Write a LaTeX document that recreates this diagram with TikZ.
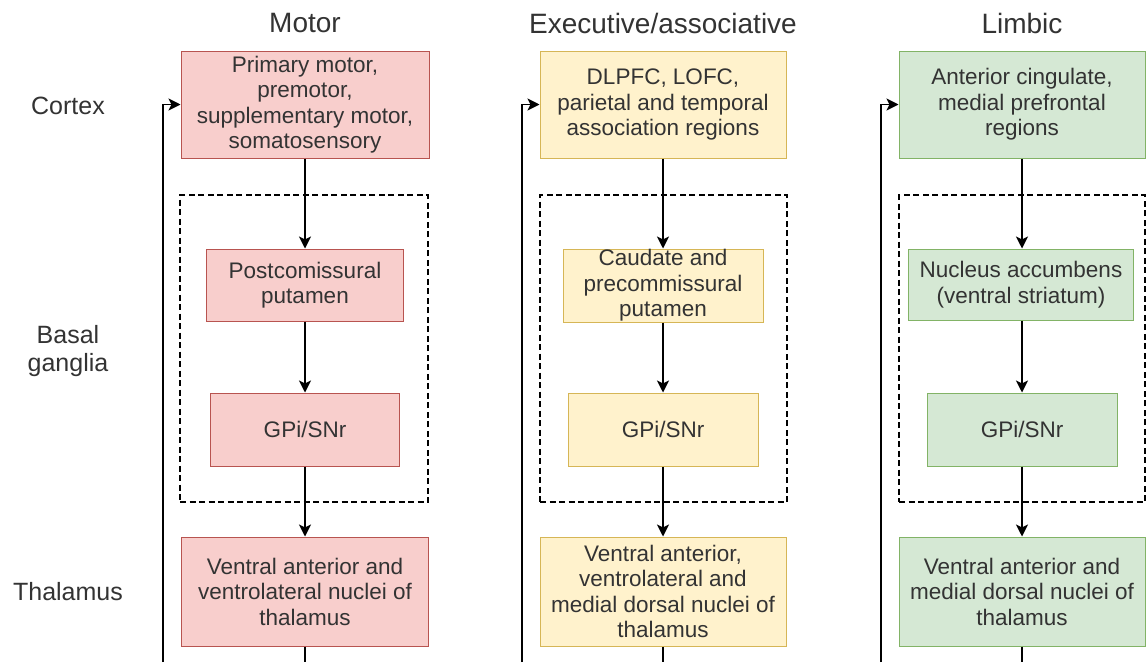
\documentclass[tikz,border=0pt]{standalone}
\usepackage{fontspec}
\setmainfont{Liberation Sans}
\usetikzlibrary{arrows.meta}
\definecolor{redF}{HTML}{F8CECC}
\definecolor{redD}{HTML}{B85450}
\definecolor{yelF}{HTML}{FFF2CC}
\definecolor{yelD}{HTML}{D6B656}
\definecolor{grnF}{HTML}{D5E8D4}
\definecolor{grnD}{HTML}{82B366}
\definecolor{txtc}{HTML}{333333}
\begin{document}
\begin{tikzpicture}[x=1pt,y=-1pt,
  box/.style={draw, rectangle, align=center, inner sep=0pt, line width=1pt, text=txtc, font=\fontsize{22.5}{25.5}\selectfont},
  mot/.style={box, fill=redF, draw=redD},
  exe/.style={box, fill=yelF, draw=yelD},
  lim/.style={box, fill=grnF, draw=grnD},
  grp/.style={draw=black, dash pattern=on 6pt off 3.5pt, line width=1.2pt, rectangle, inner sep=0pt},
  flow/.style={-{Stealth[length=12pt,width=12pt,inset=3pt]}, line width=1.5pt},
  plainline/.style={line width=1.5pt},
  title/.style={font=\fontsize{28}{32}\selectfont, text=txtc},
  rowlab/.style={font=\fontsize{25}{28}\selectfont, text=txtc, align=center},
]
\useasboundingbox[fill=white] (0,0) rectangle (1146,662);

% titles
\node[title] (tM) at (305,23) {Motor};
\node[title] (tE) at (663,23) {Executive/associative};
\node[title] (tL) at (1022,23) {Limbic};

% row labels
\node[rowlab] (rC) at (68,106) {Cortex};
\node[rowlab] (rB) at (68,351) {Basal\\ganglia};
\node[rowlab] (rT) at (68,592) {Thalamus};

% dashed groups
\node[grp, minimum width=248pt, minimum height=307pt] (mD) at (304,348.5) {};
\node[grp, minimum width=247pt, minimum height=307pt] (eD) at (663.5,348.5) {};
\node[grp, minimum width=246pt, minimum height=307pt] (lD) at (1022,348.5) {};

% motor column
\node[mot, minimum width=248pt, minimum height=107pt] (mC) at (305,104.5) {Primary motor,\\premotor,\\supplementary motor,\\somatosensory};
\node[mot, minimum width=197pt, minimum height=72pt] (mS) at (305,285) {Postcomissural\\putamen};
\node[mot, minimum width=189pt, minimum height=73pt] (mG) at (305,429.5) {GPi/SNr};
\node[mot, minimum width=247pt, minimum height=109pt] (mT) at (305,591.5) {Ventral anterior and\\ventrolateral nuclei of\\thalamus};

% executive column
\node[exe, minimum width=246pt, minimum height=107pt] (eC) at (663,104.5) {DLPFC, LOFC,\\parietal and temporal\\association regions};
\node[exe, minimum width=200pt, minimum height=73pt] (eS) at (663,285.5) {Caudate and\\precommissural\\putamen};
\node[exe, minimum width=190pt, minimum height=73pt] (eG) at (663,429.5) {GPi/SNr};
\node[exe, minimum width=246pt, minimum height=109pt] (eT) at (663,591.5) {Ventral anterior,\\ventrolateral and\\medial dorsal nuclei of\\thalamus};

% limbic column
\node[lim, minimum width=246pt, minimum height=107pt] (lC) at (1022,104.5) {Anterior cingulate,\\medial prefrontal\\regions};
\node[lim, minimum width=225pt, minimum height=71pt] (lS) at (1021,284.5) {Nucleus accumbens\\(ventral striatum)};
\node[lim, minimum width=190pt, minimum height=73pt] (lG) at (1022,429.5) {GPi/SNr};
\node[lim, minimum width=246pt, minimum height=109pt] (lT) at (1022,591.5) {Ventral anterior and\\medial dorsal nuclei of\\thalamus};

% free ends at the lower edge
\coordinate (mOut) at (305,662);
\coordinate (eOut) at (663,662);
\coordinate (lOut) at (1022,662);
\coordinate (mBack) at (163,662);
\coordinate (eBack) at (522,662);
\coordinate (lBack) at (881,662);

% connectors
\foreach \c in {m,e,l}{
  \draw[flow] (\c C.south) -- (\c S.north -| \c C.south);
  \draw[flow] (\c S.south -| \c C.south) -- (\c G.north);
  \draw[flow] (\c G.south) -- (\c T.north);
  \draw[plainline] (\c T.south) -- (\c Out);
  \draw[flow] (\c Back) |- (\c C.west);
}
\end{tikzpicture}
\end{document}
